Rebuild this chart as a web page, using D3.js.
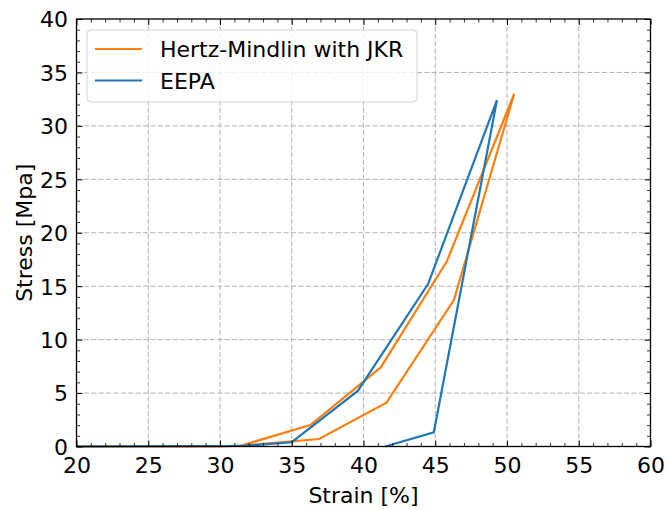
<!DOCTYPE html>
<html>
<head>
<meta charset="utf-8">
<script src="https://d3js.org/d3.v7.min.js"></script>
<style>
  html, body { margin: 0; padding: 0; background: #fff; }
  svg { display: block; font-family: "DejaVu Sans", sans-serif; }
</style>
</head>
<body>
<svg id="chart" width="667" height="510"></svg>
<script>
// Stress–strain loops for the two contact models
const seriesNames = ["Hertz-Mindlin with JKR", "EEPA"];
const seriesColors = ["#ff7f0e", "#1f77b4"];

const jkrStrain = [20, 30, 31.5, 36.3, 41.2, 45.8, 50.5, 46.3, 41.6, 36.9, 33.0, 31.5];
const jkrStress = [0, 0, 0.1, 2.0, 7.4, 17.3, 33.0, 13.7, 4.1, 0.7, 0.25, 0.1];

const eepaStrain = [20, 31.5, 35.0, 39.6, 44.5, 49.3, 44.9, 41.5];
const eepaStress = [0, 0.05, 0.4, 5.2, 15.2, 32.4, 1.33, 0];

const xTicks = [20, 25, 30, 35, 40, 45, 50, 55, 60];
const yTicks = [0, 5, 10, 15, 20, 25, 30, 35, 40];

const margin = { left: 76.5, right: 650.5, top: 19, bottom: 446.5 };

const svg = d3.select("#chart");
const x = d3.scaleLinear().domain([20, 60]).range([margin.left, margin.right]);
const y = d3.scaleLinear().domain([0, 40]).range([margin.bottom, margin.top]);

// grid
const grid = svg.append("g").attr("stroke", "#b0b0b0").attr("stroke-width", 1)
  .attr("stroke-dasharray", "5,2.4").attr("fill", "none");
xTicks.slice(1, -1).forEach(v => {
  grid.append("line").attr("x1", x(v)).attr("x2", x(v)).attr("y1", margin.top).attr("y2", margin.bottom);
});
yTicks.slice(1, -1).forEach(v => {
  grid.append("line").attr("y1", y(v)).attr("y2", y(v)).attr("x1", margin.left).attr("x2", margin.right);
});

// data lines
const line = d3.line().x(d => x(d[0])).y(d => y(d[1]));
const series = [
  d3.zip(jkrStrain, jkrStress),
  d3.zip(eepaStrain, eepaStress)
];
series.forEach((pts, i) => {
  svg.append("path").datum(pts).attr("d", line)
    .attr("fill", "none").attr("stroke", seriesColors[i])
    .attr("stroke-width", 2.2).attr("stroke-linejoin", "miter");
});

// axes with inward ticks on all four sides
const minorX = d3.range(20, 61, 1).filter(v => v % 5 !== 0);
const minorY = d3.range(0, 41, 1).filter(v => v % 5 !== 0);

function addAxis(axisFn, scale, transform, major, minor, showLabels) {
  const gMaj = svg.append("g").attr("transform", transform)
    .call(axisFn(scale).tickValues(major).tickSizeInner(-6).tickSizeOuter(0)
      .tickPadding(showLabels ? 11 : 0).tickFormat(showLabels ? d3.format("d") : () => ""));
  gMaj.select(".domain").remove();
  gMaj.selectAll("line").attr("stroke", "#000").attr("stroke-width", 1);
  gMaj.selectAll("text").attr("font-size", 22).attr("fill", "#000")
    .attr("font-family", "DejaVu Sans, sans-serif");
  const gMin = svg.append("g").attr("transform", transform)
    .call(axisFn(scale).tickValues(minor).tickSizeInner(-3.5).tickSizeOuter(0).tickFormat(() => ""));
  gMin.select(".domain").remove();
  gMin.selectAll("line").attr("stroke", "#000").attr("stroke-width", 0.8);
  return gMaj;
}
const gx = addAxis(d3.axisBottom, x, `translate(0,${margin.bottom})`, xTicks, minorX, true);
gx.selectAll("text").attr("dy", "0.71em");
addAxis(d3.axisTop, x, `translate(0,${margin.top})`, xTicks, minorX, false);
const gy = addAxis(d3.axisLeft, y, `translate(${margin.left},0)`, yTicks, minorY, true);
gy.selectAll("text").attr("dx", "0").attr("dy", "0.36em");
gy.selectAll(".tick text").attr("x", -8.5);
addAxis(d3.axisRight, y, `translate(${margin.right},0)`, yTicks, minorY, false);

// frame
svg.append("rect").attr("x", margin.left).attr("y", margin.top)
  .attr("width", margin.right - margin.left).attr("height", margin.bottom - margin.top)
  .attr("fill", "none").attr("stroke", "#000").attr("stroke-width", 1.3);

// axis titles
svg.append("text").attr("x", (margin.left + margin.right) / 2).attr("y", 503)
  .attr("text-anchor", "middle").attr("font-size", 22).text("Strain [%]");
svg.append("text").attr("transform", `translate(32,${(margin.top + margin.bottom) / 2}) rotate(-90)`)
  .attr("text-anchor", "middle").attr("font-size", 22).text("Stress [Mpa]");

// legend
const lg = svg.append("g");
lg.append("rect").attr("x", 87).attr("y", 30).attr("width", 330).attr("height", 72)
  .attr("rx", 4).attr("fill", "#fff").attr("fill-opacity", 0.8)
  .attr("stroke", "#d0d0d0").attr("stroke-width", 1);
seriesNames.forEach((name, i) => {
  const yy = 49 + i * 31.5;
  lg.append("line").attr("x1", 95).attr("x2", 142).attr("y1", yy).attr("y2", yy)
    .attr("stroke", seriesColors[i]).attr("stroke-width", 2.2);
  lg.append("text").attr("x", 160).attr("y", yy + 8).attr("font-size", 22).text(name);
});
</script>
</body>
</html>
